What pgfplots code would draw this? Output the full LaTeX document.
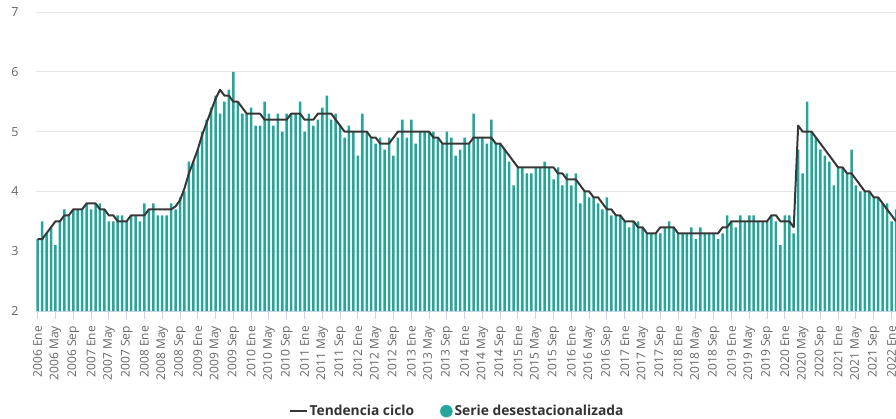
\documentclass[border=0pt]{standalone}
\usepackage{pgfplots}
\usepackage{pgfplotstable}
\pgfplotsset{compat=1.18}
\usepackage{fontspec}
\setmainfont{Open Sans}
\definecolor{barc}{RGB}{38,166,154}
\definecolor{trendc}{RGB}{55,55,55}
\definecolor{gridc}{RGB}{230,230,230}
\definecolor{axisc}{RGB}{204,214,235}
\definecolor{labc}{RGB}{102,102,102}
\definecolor{legc}{RGB}{51,51,51}

\pgfplotstableread{
x bar trend
0 3.2 3.2
1 3.5 3.2
2 3.3 3.3
3 3.4 3.4
4 3.1 3.5
5 3.5 3.5
6 3.7 3.6
7 3.6 3.6
8 3.7 3.7
9 3.7 3.7
10 3.7 3.7
11 3.8 3.8
12 3.7 3.8
13 3.8 3.8
14 3.8 3.7
15 3.7 3.7
16 3.5 3.6
17 3.5 3.6
18 3.6 3.5
19 3.6 3.5
20 3.5 3.5
21 3.6 3.6
22 3.6 3.6
23 3.5 3.6
24 3.8 3.6
25 3.7 3.7
26 3.8 3.7
27 3.6 3.7
28 3.6 3.7
29 3.6 3.7
30 3.8 3.7
31 3.7 3.75
32 3.9 3.85
33 4.0 4.05
34 4.5 4.3
35 4.5 4.5
36 4.7 4.7
37 5.0 4.95
38 5.2 5.15
39 5.4 5.35
40 5.6 5.55
41 5.3 5.7
42 5.5 5.6
43 5.7 5.6
44 6.0 5.5
45 5.5 5.5
46 5.3 5.4
47 5.3 5.3
48 5.4 5.3
49 5.1 5.3
50 5.1 5.3
51 5.5 5.2
52 5.3 5.2
53 5.1 5.2
54 5.3 5.2
55 5.0 5.2
56 5.3 5.2
57 5.3 5.3
58 5.3 5.3
59 5.5 5.3
60 5.0 5.2
61 5.3 5.2
62 5.1 5.2
63 5.2 5.3
64 5.4 5.3
65 5.6 5.3
66 5.2 5.3
67 5.3 5.2
68 5.1 5.1
69 4.9 5.0
70 5.1 5.0
71 5.0 5.0
72 4.6 5.0
73 5.3 5.0
74 5.0 5.0
75 4.9 4.9
76 4.8 4.9
77 4.9 4.8
78 4.7 4.8
79 4.9 4.8
80 4.6 4.9
81 4.9 5.0
82 5.2 5.0
83 4.9 5.0
84 5.2 5.0
85 4.8 5.0
86 5.0 5.0
87 5.0 5.0
88 5.0 5.0
89 5.0 4.9
90 4.9 4.9
91 4.8 4.8
92 5.0 4.8
93 4.9 4.8
94 4.6 4.8
95 4.7 4.8
96 4.9 4.8
97 4.8 4.8
98 5.3 4.9
99 4.9 4.9
100 4.9 4.9
101 4.8 4.9
102 5.2 4.9
103 4.8 4.8
104 4.8 4.8
105 4.7 4.7
106 4.5 4.6
107 4.1 4.5
108 4.4 4.4
109 4.4 4.4
110 4.3 4.4
111 4.3 4.4
112 4.4 4.4
113 4.4 4.4
114 4.5 4.4
115 4.4 4.4
116 4.2 4.4
117 4.4 4.3
118 4.1 4.3
119 4.3 4.2
120 4.1 4.2
121 4.3 4.2
122 3.8 4.1
123 4.0 4.0
124 3.9 4.0
125 3.9 3.9
126 3.8 3.9
127 3.7 3.8
128 3.9 3.7
129 3.6 3.7
130 3.6 3.6
131 3.6 3.6
132 3.5 3.5
133 3.4 3.5
134 3.5 3.5
135 3.5 3.4
136 3.4 3.4
137 3.3 3.3
138 3.3 3.3
139 3.3 3.3
140 3.3 3.4
141 3.4 3.4
142 3.5 3.4
143 3.4 3.4
144 3.3 3.3
145 3.3 3.3
146 3.3 3.3
147 3.4 3.3
148 3.2 3.3
149 3.4 3.3
150 3.3 3.3
151 3.3 3.3
152 3.3 3.3
153 3.2 3.3
154 3.3 3.4
155 3.6 3.4
156 3.5 3.5
157 3.4 3.5
158 3.6 3.5
159 3.5 3.5
160 3.6 3.5
161 3.6 3.5
162 3.5 3.5
163 3.5 3.5
164 3.5 3.5
165 3.6 3.6
166 3.5 3.6
167 3.1 3.5
168 3.6 3.5
169 3.6 3.5
170 3.3 3.4
171 4.7 5.1
172 4.3 5.0
173 5.5 5.0
174 5.0 5.0
175 4.9 4.9
176 4.7 4.8
177 4.6 4.7
178 4.5 4.6
179 4.1 4.5
180 4.4 4.4
181 4.4 4.4
182 4.3 4.3
183 4.7 4.3
184 4.1 4.2
185 4.0 4.1
186 4.0 4.0
187 4.0 4.0
188 3.9 3.9
189 3.9 3.9
190 3.8 3.8
191 3.8 3.7
192 3.5 3.6
193 3.7 3.5
}\datatable

\begin{document}
\begin{tikzpicture}[x=1pt,y=1pt]
\path[use as bounding box] (0,0) rectangle (896,418);
\begin{axis}[
  at={(36pt,107pt)}, anchor=south west,
  width=860pt, height=299pt, scale only axis,
  xmin=-0.38, xmax=193, ymin=2, ymax=7,
  axis x line*=bottom, axis y line*=left,
  x axis line style={axisc, line width=1pt},
  y axis line style={draw=none},
  ytick={2,3,4,5,6,7},
  ymajorgrids, grid style={gridc, line width=1pt},
  ytick style={draw=none},
  xtick={0,4,...,192},
  xticklabels={2006 Ene,2006 May,2006 Sep,2007 Ene,2007 May,2007 Sep,2008 Ene,2008 May,2008 Sep,2009 Ene,2009 May,2009 Sep,2010 Ene,2010 May,2010 Sep,2011 Ene,2011 May,2011 Sep,2012 Ene,2012 May,2012 Sep,2013 Ene,2013 May,2013 Sep,2014 Ene,2014 May,2014 Sep,2015 Ene,2015 May,2015 Sep,2016 Ene,2016 May,2016 Sep,2017 Ene,2017 May,2017 Sep,2018 Ene,2018 May,2018 Sep,2019 Ene,2019 May,2019 Sep,2020 Ene,2020 May,2020 Sep,2021 Ene,2021 May,2021 Sep,2022 Ene},
  xtick style={axisc, line width=1pt},
  tick align=outside, major tick length=8pt,
  xticklabel shift=6pt,
  xticklabel style={rotate=90, anchor=east, font=\fontsize{12}{12}\selectfont, text=labc, inner sep=1pt},
  yticklabel style={font=\fontsize{12.5}{12.5}\selectfont, text=labc, xshift=-6pt},
  /pgf/number format/assume math mode=true,
  clip=true,
  legend style={at={(0.4895,-0.335)}, anchor=center, draw=none, fill=none,
    legend columns=2, font=\bfseries\fontsize{13.8}{13.8}\selectfont, text=legc,
    /tikz/every even column/.append style={column sep=24pt}},
]
\addlegendimage{trendc, line width=2pt}
\addlegendentry{Tendencia ciclo}
\addlegendimage{legend image code/.code={\fill[barc] (0.3cm,0pt) circle (6pt);}}
\addlegendentry{Serie desestacionalizada}
\addplot[ybar, bar width=2.5pt, bar shift=0pt, fill=barc, draw=none, forget plot] table[x=x, y=bar] {\datatable};
\addplot[trendc, line width=2pt, line join=round, forget plot] table[x=x, y=trend] {\datatable};
\end{axis}
\end{tikzpicture}
\end{document}
